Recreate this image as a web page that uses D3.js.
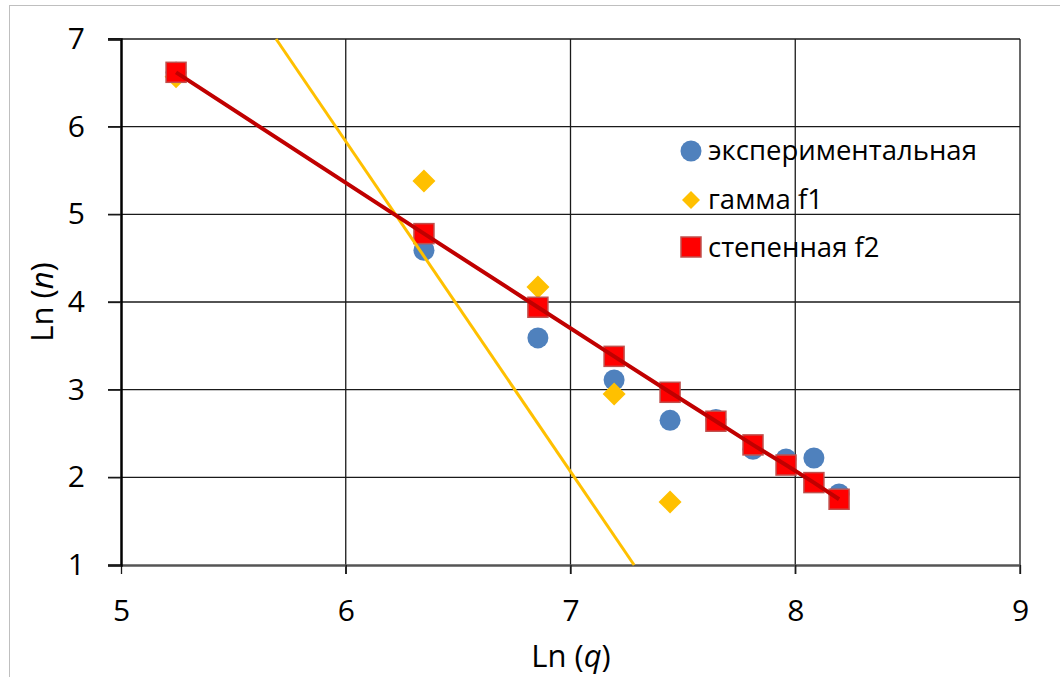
<!DOCTYPE html>
<html><head><meta charset="utf-8">
<script src="https://cdn.jsdelivr.net/npm/d3@7"></script>
<style>
html,body{margin:0;padding:0;background:#fff;}
svg{display:block;font-family:"Open Sans","Noto Sans",sans-serif;}
</style></head>
<body>
<svg id="chart" width="1060" height="677"></svg>
<script>
// ---- data ----
const xTicks = [5, 6, 7, 8, 9];
const yTicks = [1, 2, 3, 4, 5, 6, 7];
const lnQ = [5.245, 6.348, 6.855, 7.194, 7.443, 7.647, 7.812, 7.959, 8.083, 8.195];
const expN = [6.62, 4.59, 3.59, 3.11, 2.65, 2.66, 2.32, 2.21, 2.22, 1.81];
const gammaQ = [5.245, 6.348, 6.855, 7.194, 7.443];
const gammaN = [6.57, 5.38, 4.17, 2.95, 1.72];
const powerN = [6.62, 4.78, 3.94, 3.38, 2.97, 2.64, 2.37, 2.14, 1.94, 1.75];
const gammaTrendQ = [5.69, 7.283];
const gammaTrendN = [7, 1];
const seriesNames = ["экспериментальная", "гамма f1", "степенная f2"];

// ---- layout ----
const svg = d3.select("#chart");
const x = d3.scaleLinear().domain([5, 9]).range([121, 1020]);
const y = d3.scaleLinear().domain([1, 7]).range([565, 39]);
const tickFont = 30, titleFont = 31, legendFont = 27.5;

// outer frame
svg.append("rect").attr("x", 9.5).attr("y", 5.5).attr("width", 1100).attr("height", 700)
  .attr("fill", "none").attr("stroke", "#bfbfbf").attr("stroke-width", 1);

// horizontal gridlines (with left tick overhang)
svg.append("g").selectAll("line").data(yTicks.filter(d => d !== 1)).join("line")
  .attr("x1", 108).attr("x2", x(9)).attr("y1", d => y(d)).attr("y2", d => y(d))
  .attr("stroke", "#1a1a1a").attr("stroke-width", 1.3);
// vertical gridlines (with bottom tick overhang)
svg.append("g").selectAll("line").data(xTicks.filter(d => d !== 5)).join("line")
  .attr("x1", d => x(d)).attr("x2", d => x(d)).attr("y1", y(7)).attr("y2", 574)
  .attr("stroke", "#1a1a1a").attr("stroke-width", 1.3);

// axes
const yAxis = svg.append("g").attr("transform", `translate(${x(5)},0)`)
  .call(d3.axisLeft(y).tickValues(yTicks).tickSize(13).tickPadding(23).tickFormat(d3.format("d")));
yAxis.select(".domain").attr("stroke", "#000").attr("stroke-width", 2.5);
yAxis.selectAll(".tick line").attr("stroke", "#1a1a1a").attr("stroke-width", 1.3);
yAxis.selectAll(".tick text").attr("font-size", tickFont).attr("fill", "#000")
  .attr("font-family", "'Open Sans','Noto Sans',sans-serif");

const xAxis = svg.append("g").attr("transform", `translate(0,${y(1)})`)
  .call(d3.axisBottom(x).tickValues(xTicks).tickSize(9).tickSizeOuter(0).tickPadding(26).tickFormat(d3.format("d")));
xAxis.select(".domain").attr("stroke", "#555").attr("stroke-width", 2.5);
xAxis.selectAll(".tick line").attr("stroke", "#1a1a1a").attr("stroke-width", 1.3);
xAxis.selectAll(".tick text").attr("font-size", tickFont).attr("fill", "#000")
  .attr("font-family", "'Open Sans','Noto Sans',sans-serif");
yAxis.raise();

// axis titles
const xt = svg.append("text").attr("x", 571).attr("y", 667).attr("text-anchor", "middle")
  .attr("font-size", titleFont).attr("fill", "#000");
xt.append("tspan").text("Ln (");
xt.append("tspan").attr("font-style", "italic").text("q");
xt.append("tspan").text(")");

const yt = svg.append("text").attr("transform", "translate(53,302) rotate(-90)")
  .attr("text-anchor", "middle").attr("font-size", titleFont).attr("fill", "#000");
yt.append("tspan").text("Ln (");
yt.append("tspan").attr("font-style", "italic").text("n");
yt.append("tspan").text(")");

// ---- series ----
const blue = "#4f81bd", gold = "#ffc000", red = "#ff0000", redEdge = "#c0504d", darkRed = "#c00000";
const expData = lnQ.map((q, i) => ({ q, n: expN[i] }));
const gammaData = gammaQ.map((q, i) => ({ q, n: gammaN[i] }));
const powerData = lnQ.map((q, i) => ({ q, n: powerN[i] }));
const trendData = gammaTrendQ.map((q, i) => ({ q, n: gammaTrendN[i] }));

svg.append("g").selectAll("circle").data(expData).join("circle")
  .attr("cx", d => x(d.q)).attr("cy", d => y(d.n)).attr("r", 10.5).attr("fill", blue);

const diamond = s => `M0,${-s}L${s},0L0,${s}L${-s},0Z`;
svg.append("g").selectAll("path").data(gammaData).join("path")
  .attr("transform", d => `translate(${x(d.q)},${y(d.n)})`).attr("d", diamond(11.5)).attr("fill", gold);

svg.append("g").selectAll("rect").data(powerData).join("rect")
  .attr("x", d => x(d.q) - 10).attr("y", d => y(d.n) - 10).attr("width", 20).attr("height", 20)
  .attr("fill", red).attr("stroke", redEdge).attr("stroke-width", 1.5);

const line = d3.line().x(d => x(d.q)).y(d => y(d.n));
svg.append("path").datum(trendData).attr("d", line).attr("fill", "none")
  .attr("stroke", gold).attr("stroke-width", 3);
svg.append("path").datum(powerData).attr("d", line).attr("fill", "none")
  .attr("stroke", darkRed).attr("stroke-width", 4);

// ---- legend ----
const lg = svg.append("g");
lg.append("circle").attr("cx", 691).attr("cy", 151).attr("r", 10.5).attr("fill", blue);
lg.append("path").attr("transform", "translate(691,200)").attr("d", diamond(9)).attr("fill", gold);
lg.append("rect").attr("x", 681).attr("y", 237).attr("width", 20).attr("height", 20)
  .attr("fill", red).attr("stroke", redEdge).attr("stroke-width", 1.5);
const lgY = [160, 209, 257];
lg.selectAll("text").data(seriesNames).join("text")
  .attr("x", 708).attr("y", (d, i) => lgY[i]).attr("font-size", legendFont).attr("fill", "#000").text(d => d);
</script>
</body></html>
